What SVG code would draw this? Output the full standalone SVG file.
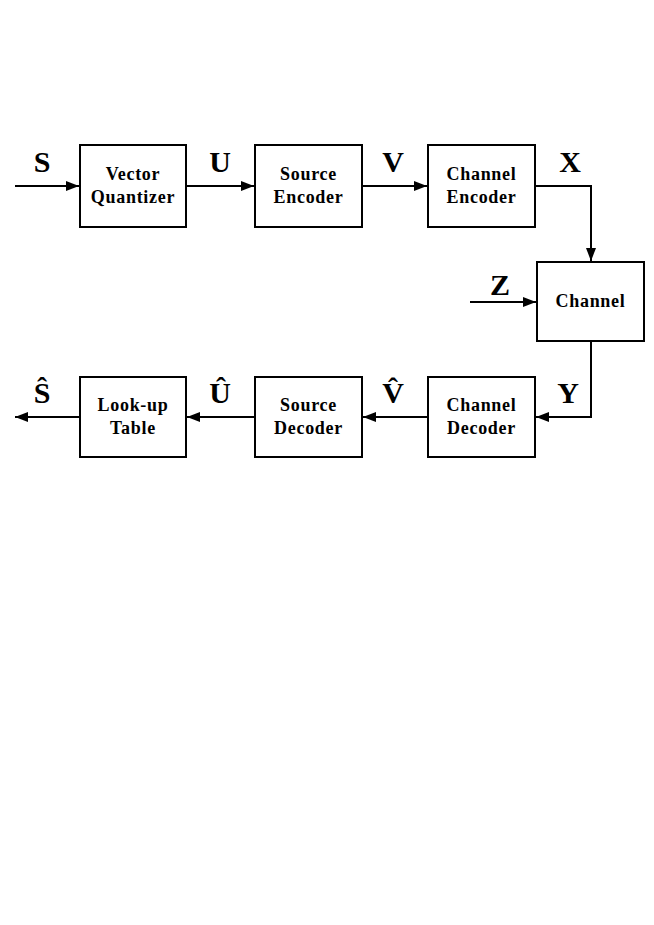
<svg xmlns="http://www.w3.org/2000/svg" width="654" height="925" viewBox="0 0 654 925">
<defs>
<style>
.box{fill:#fff;stroke:#000;stroke-width:2}
.ln{fill:none;stroke:#000;stroke-width:2}
.t{font-family:"Liberation Serif","Times New Roman",serif;font-weight:bold;font-size:18px;letter-spacing:0.7px;text-anchor:middle;fill:#000}
.sym{font-family:"Liberation Serif","Times New Roman",serif;font-weight:bold;font-size:30px;text-anchor:middle;fill:#000}
</style>
<marker id="ah" markerWidth="13" markerHeight="10" refX="13" refY="5" orient="auto" markerUnits="userSpaceOnUse">
<path d="M0,0 L13,5 L0,10 Z" fill="#000"/>
</marker>
</defs>
<rect width="654" height="925" fill="#fff"/>
<g id="connectors">
<path class="ln" d="M15,186 H79" marker-end="url(#ah)"/>
<path class="ln" d="M186,186 H254" marker-end="url(#ah)"/>
<path class="ln" d="M362,186 H427" marker-end="url(#ah)"/>
<path class="ln" d="M535,186 H591 V261" marker-end="url(#ah)"/>
<path class="ln" d="M470,302 H536" marker-end="url(#ah)"/>
<path class="ln" d="M591,341 V417 H536" marker-end="url(#ah)"/>
<path class="ln" d="M428,417 H363" marker-end="url(#ah)"/>
<path class="ln" d="M255,417 H187" marker-end="url(#ah)"/>
<path class="ln" d="M80,417 H15" marker-end="url(#ah)"/>
</g>
<g id="labels">
<text class="sym" x="42" y="172">S</text>
<text class="sym" x="220" y="172">U</text>
<text class="sym" x="393" y="172">V</text>
<text class="sym" x="570" y="172">X</text>
<text class="sym" x="500" y="295">Z</text>
<text class="sym" x="568" y="403">Y</text>
<text class="sym" x="42" y="403">Ŝ</text>
<text class="sym" x="220" y="403">Û</text>
<text class="sym" x="393" y="403">V̂</text>
</g>
<g id="vq"><rect class="box" x="80" y="145" width="106" height="82"/><text class="t" x="133" y="180">Vector</text><text class="t" x="133" y="203">Quantizer</text></g>
<g id="se"><rect class="box" x="255" y="145" width="107" height="82"/><text class="t" x="308.5" y="180">Source</text><text class="t" x="308.5" y="203">Encoder</text></g>
<g id="ce"><rect class="box" x="428" y="145" width="107" height="82"/><text class="t" x="481.5" y="180">Channel</text><text class="t" x="481.5" y="203">Encoder</text></g>
<g id="ch"><rect class="box" x="537" y="262" width="107" height="79"/><text class="t" x="590.5" y="307">Channel</text></g>
<g id="cd"><rect class="box" x="428" y="377" width="107" height="80"/><text class="t" x="481.5" y="411">Channel</text><text class="t" x="481.5" y="434">Decoder</text></g>
<g id="sd"><rect class="box" x="255" y="377" width="107" height="80"/><text class="t" x="308.5" y="411">Source</text><text class="t" x="308.5" y="434">Decoder</text></g>
<g id="lt"><rect class="box" x="80" y="377" width="106" height="80"/><text class="t" x="133" y="411">Look-up</text><text class="t" x="133" y="434">Table</text></g>
</svg>
